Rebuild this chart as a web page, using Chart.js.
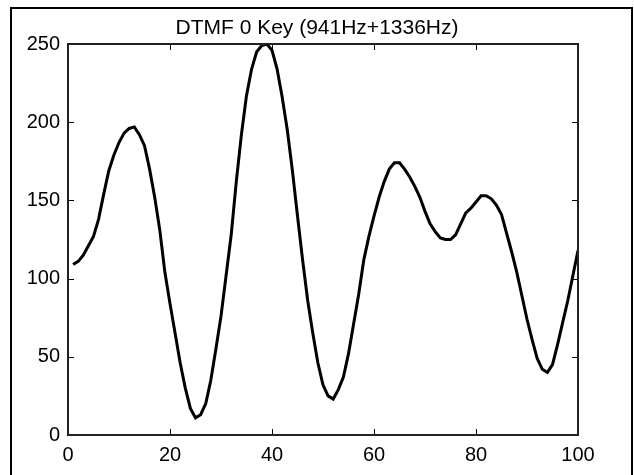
<!DOCTYPE html>
<html>
<head>
<meta charset="utf-8">
<script src="https://cdn.jsdelivr.net/npm/chart.js@4/dist/chart.umd.min.js"></script>
<style>
  html, body { margin: 0; padding: 0; background: #fff; }
  #wrap { position: relative; width: 634px; height: 475px; overflow: hidden; }
  #frame { position: absolute; left: 10px; top: 7px; width: 619px; height: 500px; border: 2px solid #000; pointer-events: none; }
  canvas { position: absolute; left: 0; top: 0; }
</style>
</head>
<body>
<div id="wrap">
  <canvas id="dtmfChart" width="634" height="475"></canvas>
  <div id="frame"></div>
</div>
<script>
const ctx = document.getElementById('dtmfChart').getContext('2d');

const titleText = 'DTMF 0 Key (941Hz+1336Hz)';
const xTicks = [0, 20, 40, 60, 80, 100];
const yTicks = [0, 50, 100, 150, 200, 250];

// sample numbers 1..100 and the amplitude
const samples = Array.from({ length: 100 }, (_, i) => i + 1);
const amplitude = [
  109, 111, 115, 121, 127, 138, 154, 169, 179, 187,
  193, 196, 197, 192, 185, 170, 152, 131, 104, 84,
  65, 46, 30, 17, 11, 13, 20, 35, 55, 76,
  102, 128, 162, 192, 217, 234, 245, 249, 250, 246,
  234, 216, 195, 169, 140, 112, 86, 65, 46, 32,
  25, 23, 29, 37, 52, 71, 90, 112, 127, 140,
  152, 162, 170, 174, 174, 170, 165, 159, 152, 143,
  135, 130, 126, 125, 125, 128, 135, 142, 145, 149,
  153, 153, 151, 147, 141, 129, 117, 104, 89, 74,
  61, 49, 42, 40, 45, 58, 72, 86, 102, 118
];

const fontFamily = 'Liberation Sans, Arial, sans-serif';

// matlab style box with ticks pointing inward, title centred on the figure
const boxPlugin = {
  id: 'box',
  afterDatasetsDraw(chart) {
    const { ctx, chartArea: a, scales } = chart;
    const t = 6;
    ctx.save();
    ctx.strokeStyle = '#000';
    ctx.lineWidth = 1;
    ctx.beginPath();
    xTicks.forEach(v => {
      const px = Math.round(scales.x.getPixelForValue(v)) + 0.5;
      ctx.moveTo(px, a.bottom); ctx.lineTo(px, a.bottom - t);
      ctx.moveTo(px, a.top); ctx.lineTo(px, a.top + t);
    });
    yTicks.forEach(v => {
      const py = Math.round(scales.y.getPixelForValue(v)) + 0.5;
      ctx.moveTo(a.left, py); ctx.lineTo(a.left + t, py);
      ctx.moveTo(a.right, py); ctx.lineTo(a.right - t, py);
    });
    ctx.stroke();
    ctx.lineWidth = 2;
    ctx.strokeStyle = '#222';
    ctx.strokeRect(a.left, a.top, a.right - a.left, a.bottom - a.top);

    ctx.fillStyle = '#000';
    ctx.font = '21px ' + fontFamily;
    ctx.textAlign = 'center';
    ctx.textBaseline = 'middle';
    ctx.fillText(titleText, chart.width / 2, 28);
    ctx.restore();
  }
};

const chart = new Chart(ctx, {
  type: 'line',
  data: {
    datasets: [{
      data: samples.map((n, i) => ({ x: n, y: amplitude[i] })),
      borderColor: '#000',
      borderWidth: 3,
      pointRadius: 0,
      tension: 0,
      fill: false
    }]
  },
  options: {
    responsive: false,
    animation: false,
    layout: { padding: { left: 0, right: 56, top: 44, bottom: 0 } },
    plugins: {
      legend: { display: false },
      tooltip: { enabled: false },
      title: { display: false }
    },
    scales: {
      x: {
        type: 'linear',
        min: 0,
        max: 100,
        afterBuildTicks: s => { s.ticks = xTicks.map(v => ({ value: v })); },
        afterFit: s => { s.height = 40; },
        grid: { display: false, drawTicks: false },
        border: { display: false },
        ticks: {
          color: '#000',
          padding: 8,
          maxRotation: 0,
          font: { family: fontFamily, size: 20 }
        }
      },
      y: {
        min: 0,
        max: 250,
        afterBuildTicks: s => { s.ticks = yTicks.map(v => ({ value: v })); },
        afterFit: s => { s.width = 68; },
        grid: { display: false, drawTicks: false },
        border: { display: false },
        ticks: {
          color: '#000',
          padding: 8,
          font: { family: fontFamily, size: 20 }
        }
      }
    }
  },
  plugins: [boxPlugin]
});
</script>
</body>
</html>
